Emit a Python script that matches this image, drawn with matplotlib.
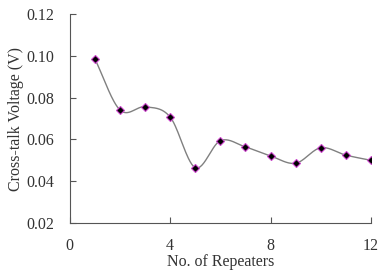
import numpy as np
import matplotlib.pyplot as plt

repeaters = [1, 2, 3, 4, 5, 6, 7, 8, 9, 10, 11, 12]
voltage = [0.0985, 0.0741, 0.0756, 0.0707, 0.0465, 0.0594,
           0.0564, 0.0521, 0.0486, 0.0560, 0.0525, 0.0500]


def smooth(x, y, n=30):
    # catmull-rom style curve through the points, like excel's smoothed line
    x = np.asarray(x, float)
    y = np.asarray(y, float)
    px = np.concatenate([[2 * x[0] - x[1]], x, [2 * x[-1] - x[-2]]])
    py = np.concatenate([[2 * y[0] - y[1]], y, [2 * y[-1] - y[-2]]])
    xs, ys = [], []
    t = np.linspace(0, 1, n)
    for i in range(1, len(px) - 2):
        for p, out in ((px, xs), (py, ys)):
            p0, p1, p2, p3 = p[i - 1], p[i], p[i + 1], p[i + 2]
            out.extend(0.5 * (2 * p1 + (-p0 + p2) * t
                              + (2 * p0 - 5 * p1 + 4 * p2 - p3) * t ** 2
                              + (-p0 + 3 * p1 - 3 * p2 + p3) * t ** 3))
    return xs, ys


plt.rcParams['font.family'] = 'Liberation Serif'
fig = plt.figure(figsize=(3.9, 2.7), dpi=100)
ax = fig.add_axes([0.179, 0.174, 0.772, 0.774])

sx, sy = smooth(repeaters, voltage)
ax.plot(sx, sy, color='#808080', lw=1.0)
ax.plot(repeaters, voltage, ls='none', marker='D', ms=4.5,
        mfc='black', mec='#cc44cc', mew=0.8)

ax.set_xlim(0, 12)
ax.set_ylim(0.02, 0.12)
ax.set_xticks([0, 4, 8, 12])
ax.set_yticks([0.02, 0.04, 0.06, 0.08, 0.10, 0.12])
ax.set_yticklabels(['0.02', '0.04', '0.06', '0.08', '0.10', '0.12'])
ax.spines['top'].set_visible(False)
ax.spines['right'].set_visible(False)
for s in ('left', 'bottom'):
    ax.spines[s].set_color('#555555')
    ax.spines[s].set_linewidth(0.8)
ax.tick_params(direction='in', length=4, width=0.8, color='#555555',
               labelsize=11.5, labelcolor='#333333')
ax.tick_params(axis='x', pad=11)
ax.tick_params(axis='y', pad=11)
ax.set_xlabel('No. of Repeaters', fontsize=11.5, color='#333333', labelpad=0)
ax.set_ylabel('Cross-talk Voltage (V)', fontsize=11.5, color='#333333', labelpad=2)

fig.savefig('out.png', dpi=100)
